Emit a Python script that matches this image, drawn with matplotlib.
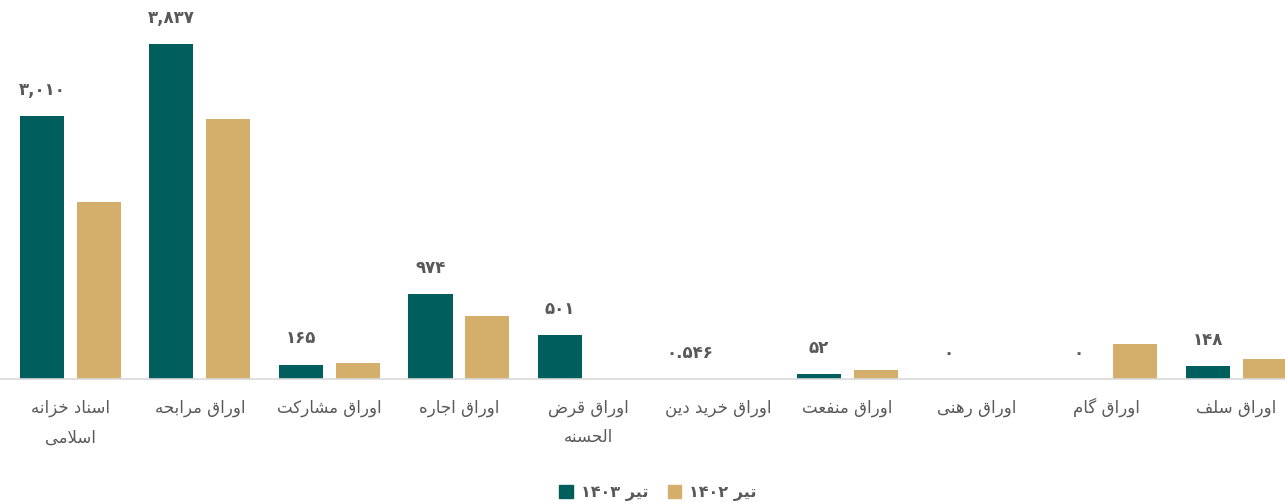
import matplotlib
matplotlib.use("Agg")
import matplotlib.pyplot as plt
import numpy as np
from matplotlib.patches import Patch

# --- data ---
categories = ["اسناد خزانه\nاسلامی", "اوراق مرابحه", "اوراق مشارکت", "اوراق اجاره",
              "اوراق قرض\nالحسنه", "اوراق خرید دین", "اوراق منفعت", "اوراق رهنی",
              "اوراق گام", "اوراق سلف"]
tir_1403 = [3010, 3837, 165, 974, 501, 0.546, 52, 0, 0, 148]
tir_1402 = [2025, 2975, 180, 720, 0, 0, 100, 0, 400, 228]
labels_1403 = ["3,010", "3,837", "165", "974", "501", "0.546", "52", "0", "0", "148"]
series_names = ["تیر ۱۴۰۳", "تیر ۱۴۰۲"]

C_TEAL, C_TAN, C_TXT = "#005f5d", "#d4ae6b", "#595959"

# --- tiny persian shaper: matplotlib has no arabic shaping / bidi ---
# char -> (isolated, final, initial, medial); two-form letters only join to the right
FORMS = {
    "ا": (0xFE8D, 0xFE8E), "د": (0xFEA9, 0xFEAA), "ذ": (0xFEAB, 0xFEAC),
    "ر": (0xFEAD, 0xFEAE), "ز": (0xFEAF, 0xFEB0), "و": (0xFEED, 0xFEEE),
    "ب": (0xFE8F, 0xFE90, 0xFE91, 0xFE92), "ت": (0xFE95, 0xFE96, 0xFE97, 0xFE98),
    "ج": (0xFE9D, 0xFE9E, 0xFE9F, 0xFEA0), "ح": (0xFEA1, 0xFEA2, 0xFEA3, 0xFEA4),
    "خ": (0xFEA5, 0xFEA6, 0xFEA7, 0xFEA8), "س": (0xFEB1, 0xFEB2, 0xFEB3, 0xFEB4),
    "ش": (0xFEB5, 0xFEB6, 0xFEB7, 0xFEB8), "ض": (0xFEBD, 0xFEBE, 0xFEBF, 0xFEC0),
    "ع": (0xFEC9, 0xFECA, 0xFECB, 0xFECC), "ف": (0xFED1, 0xFED2, 0xFED3, 0xFED4),
    "ق": (0xFED5, 0xFED6, 0xFED7, 0xFED8), "ل": (0xFEDD, 0xFEDE, 0xFEDF, 0xFEE0),
    "م": (0xFEE1, 0xFEE2, 0xFEE3, 0xFEE4), "ن": (0xFEE5, 0xFEE6, 0xFEE7, 0xFEE8),
    "ه": (0xFEE9, 0xFEEA, 0xFEEB, 0xFEEC), "ی": (0xFBFC, 0xFBFD, 0xFBFE, 0xFBFF),
    "ک": (0xFB8E, 0xFB8F, 0xFB90, 0xFB91), "گ": (0xFB92, 0xFB93, 0xFB94, 0xFB95),
}
FA_DIGITS = str.maketrans("0123456789", "۰۱۲۳۴۵۶۷۸۹")

def shape_word(w):
    out, i = [], 0
    while i < len(w):
        c = w[i]
        prev = w[i - 1] if i > 0 else None
        joins_prev = prev in FORMS and len(FORMS[prev]) == 4
        # lam-alef ligature
        if c == "ل" and i + 1 < len(w) and w[i + 1] == "ا":
            out.append(chr(0xFEFC if joins_prev else 0xFEFB))
            i += 2
            continue
        if c not in FORMS:
            out.append(c); i += 1; continue
        f = FORMS[c]
        nxt = w[i + 1] if i + 1 < len(w) else None
        joins_next = len(f) == 4 and nxt in FORMS
        if joins_prev and joins_next: out.append(chr(f[3]))
        elif joins_prev: out.append(chr(f[1]))
        elif joins_next: out.append(chr(f[2]))
        else: out.append(chr(f[0]))
        i += 1
    return "".join(out)[::-1]

def fa(line):
    toks = [shape_word(t) if any(ch in FORMS for ch in t) else t for t in line.split(" ")]
    return " ".join(toks[::-1])

plt.rcParams["font.family"] = ["DejaVu Sans"]

x = np.arange(len(categories))
w = 0.34
off = 0.22

fig = plt.figure(figsize=(12.85, 5.03), dpi=100)
ax = fig.add_axes([0, 1 - 379 / 503, 1, 379 / 503])
ax.bar(x - off, tir_1403, width=w, color=C_TEAL, zorder=2)
ax.bar(x + off, tir_1402, width=w, color=C_TAN, zorder=2)

for xi, v, lab in zip(x, tir_1403, labels_1403):
    ax.annotate(lab.translate(FA_DIGITS), (xi - off, v), xytext=(0, 19),
                textcoords="offset points", ha="center", va="center",
                fontsize=12, fontweight="bold", color=C_TXT)

# category labels, one text per line so every baseline lines up
for xi, cat in zip(x, categories):
    for k, line in enumerate(cat.split("\n")):
        ax.annotate(fa(line), (xi, 0), xycoords=("data", "axes fraction"),
                    xytext=(0, -24 - 21.5 * k), textcoords="offset points",
                    ha="center", va="baseline", fontsize=12, color=C_TXT)

ax.set_xlim(-0.544, 9.378)
ax.set_ylim(0, 4340)
ax.set_yticks([])
ax.set_xticks([])
for s in ["top", "left", "right"]:
    ax.spines[s].set_visible(False)
ax.spines["bottom"].set_color("#d9d9d9")
ax.spines["bottom"].set_linewidth(1.2)

handles = [Patch(color=C_TEAL), Patch(color=C_TAN)]
fig.legend(handles, [fa(n).translate(FA_DIGITS) for n in series_names], loc="lower center",
           bbox_to_anchor=(0.512, -0.024), ncol=2, frameon=False,
           prop={"size": 11.5, "weight": "bold"},
           handlelength=0.85, handleheight=0.85, handletextpad=0.5, columnspacing=1.2,
           labelcolor=C_TXT)

fig.savefig("out.png", dpi=100)
